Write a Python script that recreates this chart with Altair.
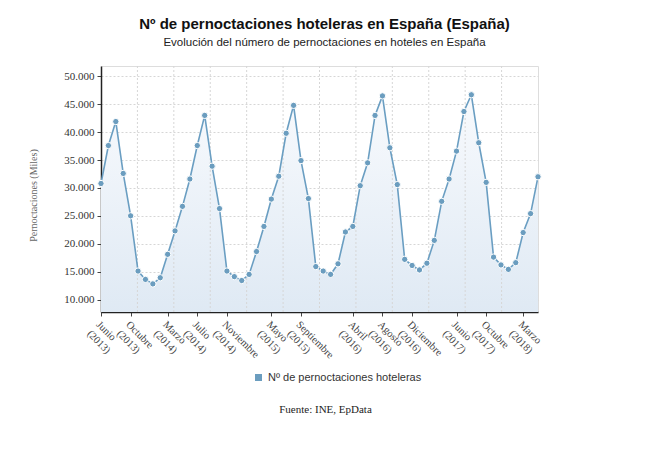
import altair as alt
import pandas as pd

# ---- data (thousands of overnight stays, Jun 2013 - May 2018) ----
values = [30.8, 37.6, 41.9, 32.6, 25.0, 15.1, 13.6, 12.8, 13.9, 18.1, 22.3, 26.7,
          31.6, 37.6, 43.0, 33.9, 26.3, 15.1, 14.1, 13.4, 14.5, 18.6, 23.1, 28.0,
          32.1, 39.8, 44.8, 34.9, 28.1, 15.9, 15.1, 14.5, 16.4, 22.1, 23.1, 30.4,
          34.5, 43.0, 46.5, 37.2, 30.6, 17.2, 16.1, 15.3, 16.5, 20.6, 27.6, 31.6,
          36.6, 43.7, 46.7, 38.1, 31.0, 17.6, 16.2, 15.4, 16.6, 22.0, 25.4, 32.0]
month_names = ["Enero", "Febrero", "Marzo", "Abril", "Mayo", "Junio", "Julio",
               "Agosto", "Septiembre", "Octubre", "Noviembre", "Diciembre"]
start_year = 2013
start_month = 6
tick_index = [0, 4, 9, 13, 17, 23, 27, 34, 38, 42, 48, 52, 57]
y_ticks = [10000, 15000, 20000, 25000, 30000, 35000, 40000, 45000, 50000]
series_name = "Nº de pernoctaciones hoteleras"

labels = []
for i in range(len(values)):
    m = (start_month - 1 + i) % 12
    y = start_year + (start_month - 1 + i) // 12
    labels.append([month_names[m], f"({y})"])

df = pd.DataFrame({
    "idx": list(range(len(values))),
    "value": [v * 1000 for v in values],
    "serie": series_name,
})
n_last = len(values) - 1
grid_df = pd.DataFrame({"g": [n_last * k / 12 for k in range(1, 12)]})

label_js = "[" + ",".join("['%s','%s']" % (a, b) for a, b in labels) + "]"

x_scale = alt.Scale(domain=[0, n_last], nice=False, zero=False)
y_scale = alt.Scale(domain=[7760, 51860], nice=False, zero=False)

x_axis = alt.Axis(
    values=tick_index, labelExpr=label_js + "[datum.value]",
    labelAngle=45, labelAlign="left", labelBaseline="top",
    labelFont="Liberation Serif", labelFontSize=10.5, labelColor="#444",
    labelPadding=3, labelLineHeight=13, labelOverlap=False, labelBound=False,
    grid=False, ticks=True, tickSize=4, tickColor="#444",
    domain=True, domainColor="#222", domainWidth=1.5,
    title="Fuente: INE, EpData", titleFont="Liberation Serif",
    titleFontSize=11, titleFontWeight="normal", titleColor="#222",
    titleX=224, titleY=97, titleBaseline="middle", titleAlign="center")

y_axis = alt.Axis(
    values=y_ticks,
    labelExpr="replace(format(datum.value, ',.0f'), ',', '.')",
    labelFont="Liberation Serif", labelFontSize=11, labelColor="#333",
    labelPadding=3, labelOverlap=False, labelBound=False,
    ticks=True, tickSize=4, tickColor="#444",
    grid=True, gridColor="#d6d6d6", gridDash=[2, 2], gridWidth=1,
    domain=True, domainColor="#222", domainWidth=1.5,
    title="Pernoctaciones (Miles)", titleFont="Liberation Serif",
    titleFontSize=10, titleFontWeight="normal", titleColor="#666",
    titleX=-68, titleY=129, titleAlign="center", titleBaseline="middle")

x_enc = alt.X("idx:Q", scale=x_scale, axis=x_axis)
y_enc = alt.Y("value:Q", scale=y_scale, axis=y_axis)

base = alt.Chart(df)

area = base.mark_area(clip=True, color=alt.Gradient(
    gradient="linear", x1=0, y1=0, x2=0, y2=1,
    stops=[alt.GradientStop(color="#f8fafd", offset=0),
           alt.GradientStop(color="#dae6f2", offset=1)])).encode(x=x_enc, y=y_enc)

grid = alt.Chart(grid_df).mark_rule(color="#d6d6d6", strokeDash=[2, 2], strokeWidth=1).encode(
    x=alt.X("g:Q", scale=x_scale, axis=x_axis))

line = base.mark_line(color="#6a9ec2", strokeWidth=1.6).encode(x=x_enc, y=y_enc)

points = base.mark_point(filled=True, size=40, stroke="white", strokeWidth=1,
                         opacity=1, fillOpacity=1).encode(
    x=x_enc, y=y_enc,
    color=alt.Color("serie:N", scale=alt.Scale(range=["#6b9dbf"]),
                    legend=alt.Legend(orient="none", legendX=152, legendY=306,
                                      title=None, symbolType="square", symbolSize=49,
                                      symbolStrokeWidth=0, labelFont="Liberation Sans",
                                      labelFontSize=11, labelColor="#333",
                                      labelOffset=4, padding=0)))

chart = alt.layer(area, grid, line, points).properties(
    width=437, height=246,
    autosize=alt.AutoSizeParams(type="none"),
    padding={"left": 101, "top": 66, "right": 112, "bottom": 139},
    title=alt.TitleParams(
        text="Nº de pernoctaciones hoteleras en España (España)",
        subtitle="Evolución del número de pernoctaciones en hoteles en España",
        font="Liberation Sans", fontSize=15, fontWeight="bold", color="#111",
        subtitleFont="Liberation Sans", subtitleFontSize=11.5, subtitleColor="#222",
        subtitlePadding=5, anchor="middle", offset=17, dx=5),
).configure_view(stroke="#222", strokeWidth=1.5).configure(background="white")

chart.save("out.html", embed_options={"renderer": "svg", "actions": False})
